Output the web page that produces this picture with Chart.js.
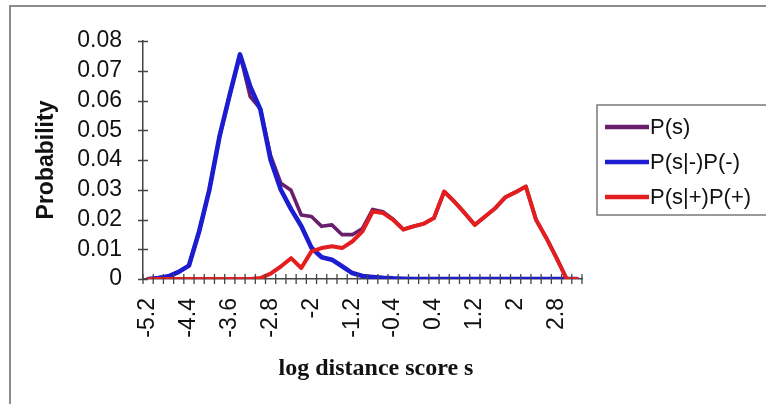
<!DOCTYPE html>
<html>
<head>
<meta charset="utf-8">
<script src="https://cdn.jsdelivr.net/npm/chart.js@4/dist/chart.umd.min.js"></script>
<style>
  html, body { margin: 0; padding: 0; background: #ffffff; }
  #wrap { width: 766px; height: 404px; position: relative; }
</style>
</head>
<body>
<div id="wrap"><canvas id="c" width="766" height="404"></canvas></div>
<script>
// ---- data ----
const categories = ['-5.2','-5','-4.8','-4.6','-4.4','-4.2','-4','-3.8','-3.6','-3.4',
  '-3.2','-3','-2.8','-2.6','-2.4','-2.2','-2','-1.8','-1.6','-1.4',
  '-1.2','-1','-0.8','-0.6','-0.4','-0.2','0','0.2','0.4','0.6',
  '0.8','1','1.2','1.4','1.6','1.8','2','2.2','2.4','2.6',
  '2.8','3','3.2'];
const xTickLabels = ['-5.2','-4.4','-3.6','-2.8','-2','-1.2','-0.4','0.4','1.2','2','2.8'];
const yTickValues = [0, 0.01, 0.02, 0.03, 0.04, 0.05, 0.06, 0.07, 0.08];
const seriesNames = ['P(s)', 'P(s|-)P(-)', 'P(s|+)P(+)'];
const pS = [0, 0.0003, 0.0009, 0.0024, 0.0045, 0.016, 0.030, 0.048, 0.062, 0.0755,
  0.0613, 0.0572, 0.0415, 0.0322, 0.0298, 0.0215, 0.021, 0.0177, 0.0182, 0.0149,
  0.0149, 0.017, 0.0234, 0.0226, 0.0201, 0.0167, 0.0177, 0.0186, 0.0205, 0.0294,
  0.026, 0.0222, 0.0182, 0.021, 0.0238, 0.0275, 0.0292, 0.0311, 0.0199, 0.0138,
  0.0071, 0, 0];
const pNeg = [0, 0.0003, 0.0009, 0.0024, 0.0045, 0.016, 0.030, 0.048, 0.062, 0.0755,
  0.0647, 0.057, 0.040, 0.030, 0.0235, 0.0178, 0.0105, 0.0073, 0.0065, 0.0043,
  0.002, 0.001, 0.0007, 0.0004, 0.0002, 0.0001, 0, 0, 0, 0,
  0, 0, 0, 0, 0, 0, 0, 0, 0, 0,
  0, 0, 0];
const pPos = [0, 0, 0, 0, 0, 0, 0, 0, 0, 0,
  0, 0.0003, 0.0018, 0.0042, 0.007, 0.0037, 0.0093, 0.0104, 0.011, 0.0104,
  0.0126, 0.016, 0.0227, 0.0222, 0.0199, 0.0166, 0.0177, 0.0186, 0.0205, 0.0294,
  0.026, 0.0222, 0.0182, 0.021, 0.0238, 0.0275, 0.0292, 0.0311, 0.0199, 0.0138,
  0.0071, 0, 0];
const colors = ['#6a1f6c', '#1c1cd0', '#e41e1e'];

const axisColor = '#444444';

const decorPlugin = {
  id: 'decor',
  beforeDraw(chart) {
    const ctx = chart.ctx;
    ctx.save();
    ctx.fillStyle = '#ffffff';
    ctx.fillRect(0, 0, chart.width, chart.height);
    // outer frame (top and left visible)
    ctx.strokeStyle = '#8c8c8c';
    ctx.lineWidth = 2;
    ctx.strokeRect(10, 6, 900, 600);
    ctx.restore();
  },
  afterDraw(chart) {
    const ctx = chart.ctx;
    const xs = chart.scales.x, ys = chart.scales.y;
    ctx.save();
    ctx.strokeStyle = axisColor;
    ctx.lineWidth = 1.5;
    // y axis tick marks (cross)
    ys.ticks.forEach(t => {
      const py = Math.round(ys.getPixelForValue(t.value)) + 0.5;
      ctx.beginPath(); ctx.moveTo(xs.left - 5, py); ctx.lineTo(xs.left + 5, py); ctx.stroke();
    });
    // x axis tick marks between categories (cross)
    const n = categories.length;
    const w = (xs.right - xs.left) / n;
    ctx.lineWidth = 1.3;
    for (let i = 0; i <= n; i++) {
      const px = xs.left + i * w;
      ctx.beginPath(); ctx.moveTo(px, ys.bottom - 5); ctx.lineTo(px, ys.bottom + 5); ctx.stroke();
    }
    // x axis title
    ctx.fillStyle = '#111111';
    ctx.font = 'bold 24px "Liberation Serif", "Times New Roman", serif';
    ctx.textAlign = 'center';
    ctx.textBaseline = 'alphabetic';
    ctx.fillText('log distance score s', 376, 375);

    // legend
    const lx = 597, ly = 105, lw = 175, lh = 110;
    ctx.strokeStyle = '#7a7a7a';
    ctx.lineWidth = 1.5;
    ctx.strokeRect(lx, ly, lw, lh);
    ctx.font = '22px "Liberation Sans", Arial, sans-serif';
    ctx.textAlign = 'left';
    ctx.textBaseline = 'middle';
    chart.data.datasets.forEach((ds, i) => {
      const ry = 127 + i * 35;
      ctx.strokeStyle = ds.borderColor;
      ctx.lineWidth = 4.5;
      ctx.beginPath(); ctx.moveTo(605, ry); ctx.lineTo(649, ry); ctx.stroke();
      ctx.fillStyle = '#111111';
      ctx.fillText(ds.label, 650, ry + 1);
    });
    ctx.restore();
  }
};

new Chart(document.getElementById('c'), {
  type: 'line',
  data: {
    labels: categories,
    datasets: [
      { label: seriesNames[0], data: pS, borderColor: colors[0], backgroundColor: colors[0], borderWidth: 3.6, order: 3 },
      { label: seriesNames[1], data: pNeg, borderColor: colors[1], backgroundColor: colors[1], borderWidth: 4.6, order: 2 },
      { label: seriesNames[2], data: pPos, borderColor: colors[2], backgroundColor: colors[2], borderWidth: 4, order: 1 }
    ]
  },
  options: {
    responsive: false,
    animation: false,
    devicePixelRatio: 1,
    layout: { padding: { left: 0, top: 41, right: 184, bottom: 0 } },
    elements: { point: { radius: 0, hoverRadius: 0 }, line: { tension: 0, borderCapStyle: 'round', borderJoinStyle: 'round' } },
    plugins: { legend: { display: false }, tooltip: { enabled: false } },
    scales: {
      x: {
        type: 'category',
        offset: true,
        grid: { display: true, drawOnChartArea: false, drawTicks: false, offset: true },
        border: { display: true, color: axisColor, width: 1.5 },
        ticks: {
          autoSkip: false,
          minRotation: 90,
          maxRotation: 90,
          padding: 19,
          color: '#111111',
          font: { family: '"Liberation Sans", Arial, sans-serif', size: 23 },
          callback: function (value, index) {
            const lab = categories[index];
            return xTickLabels.includes(lab) ? lab : '';
          }
        },
        afterFit: s => { s.height = 125; }
      },
      y: {
        min: 0,
        max: 0.08,
        afterBuildTicks: s => { s.ticks = yTickValues.map(v => ({ value: v })); },
        grid: { display: true, drawOnChartArea: false, drawTicks: false },
        border: { display: true, color: axisColor, width: 1.5 },
        ticks: {
          autoSkip: false,
          padding: 21,
          color: '#111111',
          font: { family: '"Liberation Sans", Arial, sans-serif', size: 23, lineHeight: 1 },
          callback: v => String(Math.round(v * 100) / 100)
        },
        title: {
          display: true,
          text: 'Probability',
          color: '#111111',
          font: { family: '"Liberation Sans", Arial, sans-serif', size: 23, weight: 'bold' },
          padding: { top: 33, bottom: 0 }
        },
        afterFit: s => { s.width = 143; }
      }
    }
  },
  plugins: [decorPlugin]
});
</script>
</body>
</html>
